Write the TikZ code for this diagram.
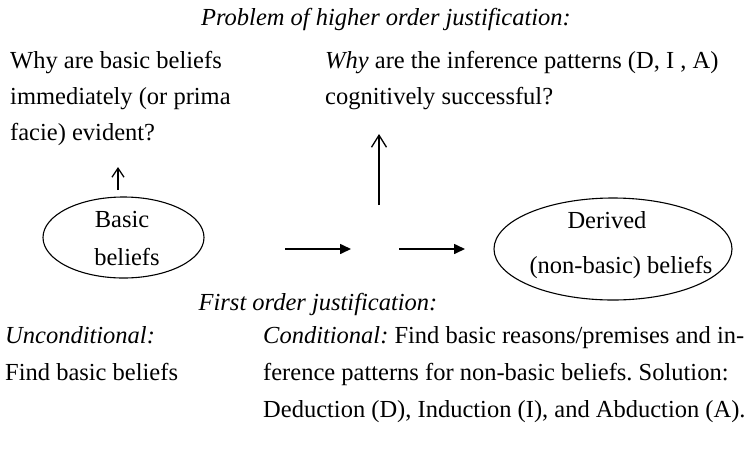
\documentclass[tikz,border=0pt]{standalone}
\usepackage{fontspec}
\setmainfont{Liberation Serif}
\usetikzlibrary{arrows.meta,shapes.geometric}
\frenchspacing
\begin{document}
\begin{tikzpicture}[x=1pt,y=-1pt,
  txt/.style={font=\fontsize{24.5}{29}\selectfont, inner sep=0pt, anchor=base west},
  ctxt/.style={font=\fontsize{24.5}{29}\selectfont, inner sep=0pt, anchor=base},
  ell/.style={draw, ellipse, line width=1.1pt, inner sep=0pt},
  uparrow/.style={line width=1.3pt, -{Straight Barb[length=9pt,width=12pt,line width=1.3pt]}},
  uparrowbig/.style={line width=1.3pt, -{Straight Barb[length=12pt,width=15pt,line width=1.3pt]}},
  rarrow/.style={line width=1.6pt, -{Triangle[length=11pt,width=10pt]}}]
\useasboundingbox (0,0) rectangle (755,448);

% titles
\node[ctxt] (t1) at (386,25) {\itshape Problem of higher order justification:};
\node[ctxt] (t2) at (318,310) {\itshape First order justification:};

% upper texts
\node[txt] (q1) at (10,68) {Why are basic beliefs};
\node[txt] (q2) at (10,104) {immediately (or prima};
\node[txt] (q3) at (10,140) {facie) evident?};
\node[txt] (r1) at (325,68) {\textit{Why} are the inference patterns (D, I , A)};
\node[txt] (r2) at (325,104) {cognitively successful?};

% ellipses
\node[ell, minimum width=161pt, minimum height=81pt] (basic) at (123.5,237.5) {};
\node[ctxt] (b1) at (122,227) {Basic};
\node[ctxt] (b2) at (127,265) {beliefs};
\node[ell, minimum width=238pt, minimum height=102pt] (derived) at (613,249) {};
\node[ctxt] (d1) at (607,228) {Derived};
\node[ctxt] (d2) at (621,273) {(non-basic) beliefs};

% arrows
\coordinate (s1) at (118,190);
\coordinate (e1) at (118,167);
\draw[uparrow] (s1) -- (e1);
\coordinate (s2) at (379,205);
\coordinate (e2) at (379,134);
\draw[uparrowbig] (s2) -- (e2);
\coordinate (h1s) at (285,249);
\coordinate (h1e) at (351,249);
\draw[rarrow] (h1s) -- (h1e);
\coordinate (h2s) at (399,249);
\coordinate (h2e) at (465,249);
\draw[rarrow] (h2s) -- (h2e);

% lower texts
\node[txt] (u1) at (5,343) {\itshape Unconditional:};
\node[txt] (u2) at (5,380) {Find basic beliefs};
\node[txt] (c1) at (263,343) {\textit{Conditional:} Find basic reasons/premises and in-};
\node[txt] (c2) at (263,380) {ference patterns for non-basic beliefs. Solution:};
\node[txt] (c3) at (263,417) {Deduction (D), Induction (I), and Abduction (A).};
\end{tikzpicture}
\end{document}
